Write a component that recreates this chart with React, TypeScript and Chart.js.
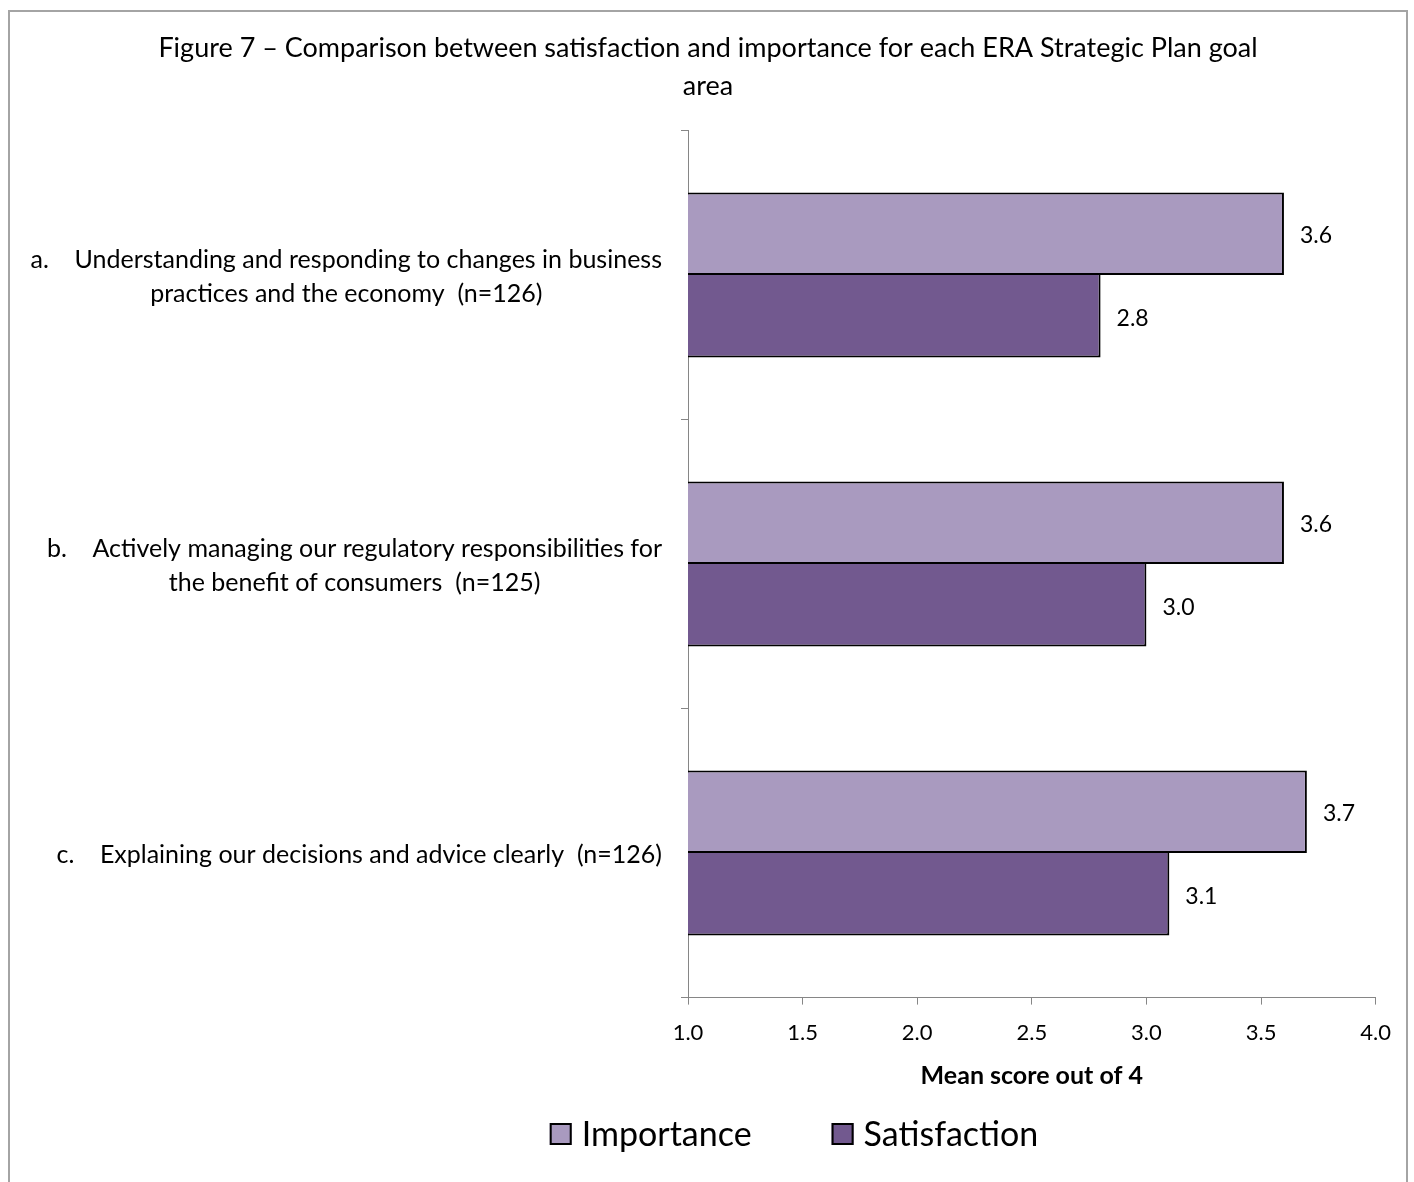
import React, { useEffect, useRef } from "react";
import { Chart, registerables } from "chart.js";

Chart.register(...registerables);

// ---- data ----
const TITLE_LINES = [
  "Figure 7 – Comparison between satisfaction and importance for each ERA Strategic Plan goal",
  "area",
];

const CATEGORY_LINES: string[][] = [
  ["a.    Understanding and responding to changes in business", "practices and the economy  (n=126)"],
  ["b.    Actively managing our regulatory responsibilities for", "the benefit of consumers  (n=125)"],
  ["c.    Explaining our decisions and advice clearly  (n=126)"],
];

const SERIES_NAMES = ["Importance", "Satisfaction"];
const IMPORTANCE = [3.6, 3.6, 3.7];
const SATISFACTION = [2.8, 3.0, 3.1];

const X_MIN = 1.0;
const X_MAX = 4.0;
const X_STEP = 0.5;
const X_TITLE = "Mean score out of 4";

// ---- styling ----
const FONT = "Lato, 'Open Sans', sans-serif";
const FILL_COLORS = ["#A99ABF", "#72598F"];
const AXIS_GRAY = "#868686";
const CANVAS_W = 1396;
const CANVAS_H = 1170;
const SIDE_PAD = 30;
const PLOT_LEFT = 678;

const CAT_FONT_SIZE = 25;
const CAT_LINE_GAP = 34;
const VALUE_FONT_SIZE = 23;
const LEGEND_FONT_SIZE = 34;
const LEGEND_BOX = 22;
const LEGEND_CENTER_X = 784;
const LEGEND_Y = 1122;

// Multi-line category captions: each caption's widest line sits flush
// against the axis gap, other lines are centred under it.
const categoryCaptions = {
  id: "categoryCaptions",
  afterDraw(chart: Chart) {
    const ctx = chart.ctx;
    const yScale = chart.scales.y;
    const right = chart.chartArea.left - 26;
    ctx.save();
    ctx.font = `${CAT_FONT_SIZE}px ${FONT}`;
    ctx.fillStyle = "#000";
    ctx.textAlign = "center";
    ctx.textBaseline = "middle";
    CATEGORY_LINES.forEach((lines, i) => {
      const cy = yScale.getPixelForValue(i) + 2;
      const widest = Math.max(...lines.map((l) => ctx.measureText(l).width));
      const cx = right - widest / 2;
      const top = cy - ((lines.length - 1) * CAT_LINE_GAP) / 2;
      lines.forEach((l, j) => ctx.fillText(l, cx, top + j * CAT_LINE_GAP));
    });
    ctx.restore();
  },
};

// Value labels just past the end of each bar.
const valueLabels = {
  id: "valueLabels",
  afterDatasetsDraw(chart: Chart) {
    const ctx = chart.ctx;
    ctx.save();
    ctx.font = `${VALUE_FONT_SIZE}px ${FONT}`;
    ctx.fillStyle = "#000";
    ctx.textAlign = "left";
    ctx.textBaseline = "middle";
    chart.data.datasets.forEach((ds, di) => {
      const meta = chart.getDatasetMeta(di);
      meta.data.forEach((el: any, i: number) => {
        const v = ds.data[i] as number;
        ctx.fillText(v.toFixed(1), el.x + 16, el.y + 2);
      });
    });
    ctx.restore();
  },
};

// Bottom legend with square swatches.
const swatchLegend = {
  id: "swatchLegend",
  afterDraw(chart: Chart) {
    const ctx = chart.ctx;
    ctx.save();
    ctx.font = `${LEGEND_FONT_SIZE}px ${FONT}`;
    ctx.textBaseline = "middle";
    ctx.textAlign = "left";
    const gapText = 10;
    const gapItem = 80;
    const items = chart.data.datasets.map((ds) => ({
      label: ds.label as string,
      color: ds.backgroundColor as string,
      w: LEGEND_BOX + gapText + ctx.measureText(ds.label as string).width,
    }));
    const total = items.reduce((s, it) => s + it.w, 0) + gapItem * (items.length - 1);
    let x = LEGEND_CENTER_X - total / 2;
    items.forEach((it) => {
      ctx.fillStyle = it.color;
      ctx.fillRect(x, LEGEND_Y - LEGEND_BOX / 2, LEGEND_BOX, LEGEND_BOX);
      ctx.strokeStyle = "#000";
      ctx.lineWidth = 2;
      ctx.strokeRect(x + 1, LEGEND_Y - LEGEND_BOX / 2 + 1, LEGEND_BOX - 2, LEGEND_BOX - 2);
      ctx.fillStyle = "#000";
      ctx.fillText(it.label, x + LEGEND_BOX + gapText, LEGEND_Y + 1);
      x += it.w + gapItem;
    });
    ctx.restore();
  },
};

export default function App() {
  const canvasRef = useRef<HTMLCanvasElement | null>(null);

  useEffect(() => {
    if (!canvasRef.current) return;
    const chart = new Chart(canvasRef.current, {
      type: "bar",
      data: {
        labels: CATEGORY_LINES.map((l) => l.join(" ")),
        datasets: [
          {
            label: SERIES_NAMES[0],
            data: IMPORTANCE,
            backgroundColor: FILL_COLORS[0],
            borderColor: "#000",
            borderWidth: 2,
            categoryPercentage: 0.571,
            barPercentage: 1.0,
          },
          {
            label: SERIES_NAMES[1],
            data: SATISFACTION,
            backgroundColor: FILL_COLORS[1],
            borderColor: "#000",
            // the shared edge with the bar above is drawn once, by that bar
            borderWidth: { top: 0, right: 2, bottom: 2, left: 0 },
            categoryPercentage: 0.571,
            barPercentage: 1.0,
          },
        ],
      },
      options: {
        indexAxis: "y",
        responsive: false,
        animation: false,
        events: [],
        layout: { padding: { left: SIDE_PAD, right: SIDE_PAD, top: 0, bottom: 91 } },
        plugins: {
          legend: { display: false },
          tooltip: { enabled: false },
          title: {
            display: true,
            text: TITLE_LINES,
            color: "#000",
            font: { family: FONT, size: 27, weight: "normal", lineHeight: 1.38 },
            padding: { top: 18, bottom: 26 },
          },
        },
        scales: {
          x: {
            type: "linear",
            min: X_MIN,
            max: X_MAX,
            ticks: {
              stepSize: X_STEP,
              color: "#000",
              padding: 15,
              font: { family: FONT, size: 22, lineHeight: 1.2 },
              callback: (v) => Number(v).toFixed(1),
            },
            grid: {
              drawOnChartArea: false,
              drawTicks: true,
              tickLength: 7,
              color: AXIS_GRAY,
              lineWidth: 1,
            },
            border: { color: AXIS_GRAY, width: 1 },
            title: {
              display: true,
              text: X_TITLE,
              color: "#000",
              font: { family: FONT, size: 25, weight: "bold", lineHeight: 1.2 },
              padding: { top: 0, bottom: 0 },
            },
          },
          y: {
            type: "category",
            ticks: { display: false },
            grid: {
              offset: true,
              drawOnChartArea: false,
              drawTicks: true,
              tickLength: 7,
              color: AXIS_GRAY,
              lineWidth: 1,
            },
            border: { color: AXIS_GRAY, width: 1 },
            afterFit: (scale) => {
              scale.width = PLOT_LEFT - SIDE_PAD;
            },
          },
        },
      },
      plugins: [categoryCaptions, valueLabels, swatchLegend],
    });
    return () => chart.destroy();
  }, []);

  return (
    <div
      style={{
        position: "fixed",
        left: 8,
        top: 10,
        width: CANVAS_W,
        height: 1200,
        border: "2px solid #a4a4a4",
        background: "#fff",
      }}
    >
      <canvas ref={canvasRef} width={CANVAS_W} height={CANVAS_H} style={{ display: "block" }} />
    </div>
  );
}
